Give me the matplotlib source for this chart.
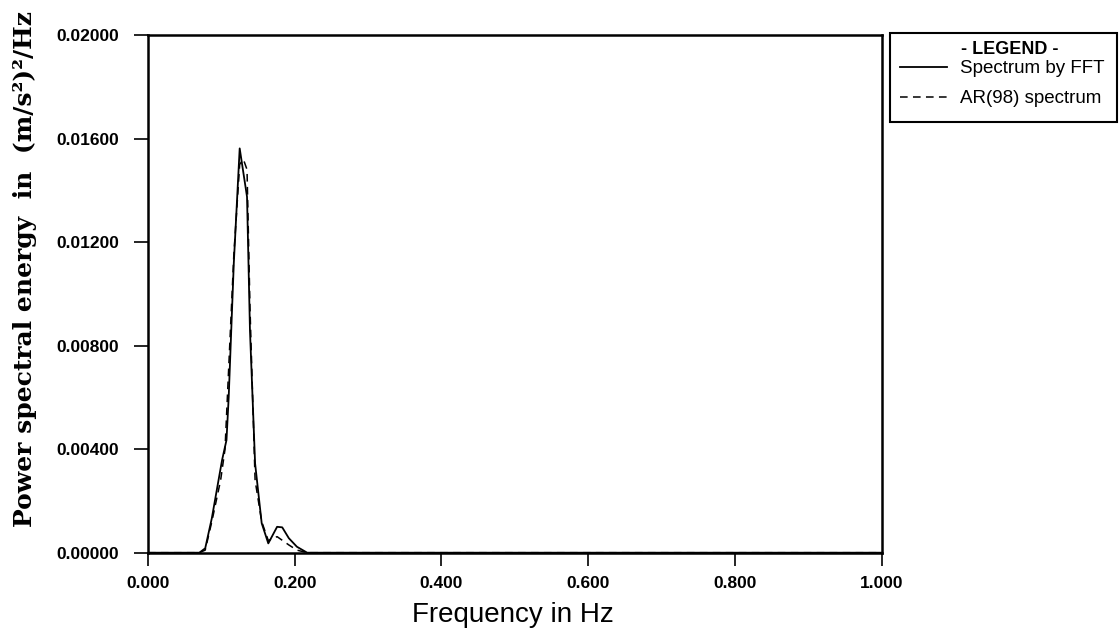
import matplotlib
matplotlib.use("Agg")
import matplotlib.pyplot as plt
from matplotlib.patches import Rectangle

# FFT spectrum (solid)
fft_freq = [0.0, 0.070, 0.078, 0.087, 0.101, 0.107, 0.110, 0.117, 0.125, 0.135,
            0.139, 0.146, 0.155, 0.164, 0.176, 0.183, 0.192, 0.203, 0.217, 1.0]
fft_val = [0.0, 0.0, 0.00017, 0.00133, 0.00358, 0.00435, 0.0060, 0.0112, 0.01562, 0.01375,
           0.0086, 0.00345, 0.00114, 0.00036, 0.00100, 0.00098, 0.00056, 0.00023, 0.0, 0.0]

# AR(98) spectrum (dashed)
ar_freq = [0.0, 0.070, 0.078, 0.087, 0.099, 0.105, 0.117, 0.125, 0.130, 0.135,
           0.139, 0.146, 0.155, 0.164, 0.176, 0.192, 0.203, 0.217, 1.0]
ar_val = [0.0, 0.0, 0.0001, 0.0012, 0.0028, 0.0040, 0.0115, 0.0150, 0.0152, 0.0148,
          0.0095, 0.0028, 0.0012, 0.00047, 0.00062, 0.0003, 0.0001, 0.0, 0.0]

x_ticks = [0.0, 0.2, 0.4, 0.6, 0.8, 1.0]
x_tick_labels = ["0.000", "0.200", "0.400", "0.600", "0.800", "1.000"]
y_ticks = [0.0, 0.004, 0.008, 0.012, 0.016, 0.020]
y_tick_labels = ["0.00000", "0.00400", "0.00800", "0.01200", "0.01600", "0.02000"]

W, H = 1119, 641
fig = plt.figure(figsize=(W / 100, H / 100), dpi=100)
ax = fig.add_axes([148 / W, 1 - 552.7 / H, (881.5 - 148) / W, (552.7 - 35) / H])

ax.plot(fft_freq, fft_val, color="black", lw=1.3, label="Spectrum by FFT")
ax.plot(ar_freq, ar_val, color="black", lw=1.1, ls=(0, (5, 3.5)), label="AR(98) spectrum")

tick_font = {"family": "Liberation Sans", "size": 12.5, "weight": "bold"}
ax.set_xlim(0, 1.0)
ax.set_ylim(0, 0.02)
ax.set_xticks(x_ticks)
ax.set_xticklabels(x_tick_labels, fontdict=tick_font)
ax.set_yticks(y_ticks)
ax.set_yticklabels(y_tick_labels, fontdict=tick_font)
ax.tick_params(axis="x", direction="out", length=9, width=1.2, pad=8, color="black")
ax.tick_params(axis="y", direction="out", length=10, width=1.2, pad=11, color="black")
for s in ax.spines.values():
    s.set_linewidth(1.8)

fig.text(513 / W, 1 - 622 / H, "Frequency in Hz", family="Liberation Sans", fontsize=20,
         ha="center", va="baseline")
fig.text(25 / W, 1 - 269 / H, "Power spectral energy  in  (m/s²)²/Hz",
         family="DejaVu Serif", fontsize=18, weight="bold",
         rotation=90, ha="center", va="center")

# Legend box, title and entries
fig.add_artist(Rectangle((890 / W, 1 - 122 / H), (1117 - 890) / W, (122 - 33) / H,
                         transform=fig.transFigure, fill=False, edgecolor="black", lw=1.5))
fig.text(1010 / W, 1 - 50 / H, "- LEGEND -", family="Liberation Sans", fontsize=13,
         weight="bold", ha="center", va="center")
leg = ax.legend(loc="upper left", bbox_to_anchor=(900 / W, 1 - 60 / H),
                bbox_transform=fig.transFigure, frameon=False,
                prop={"family": "Liberation Sans", "size": 13.5},
                handlelength=2.5, borderaxespad=0, labelspacing=0.7, borderpad=0,
                handletextpad=0.7)

fig.savefig("out.png", dpi=100)
